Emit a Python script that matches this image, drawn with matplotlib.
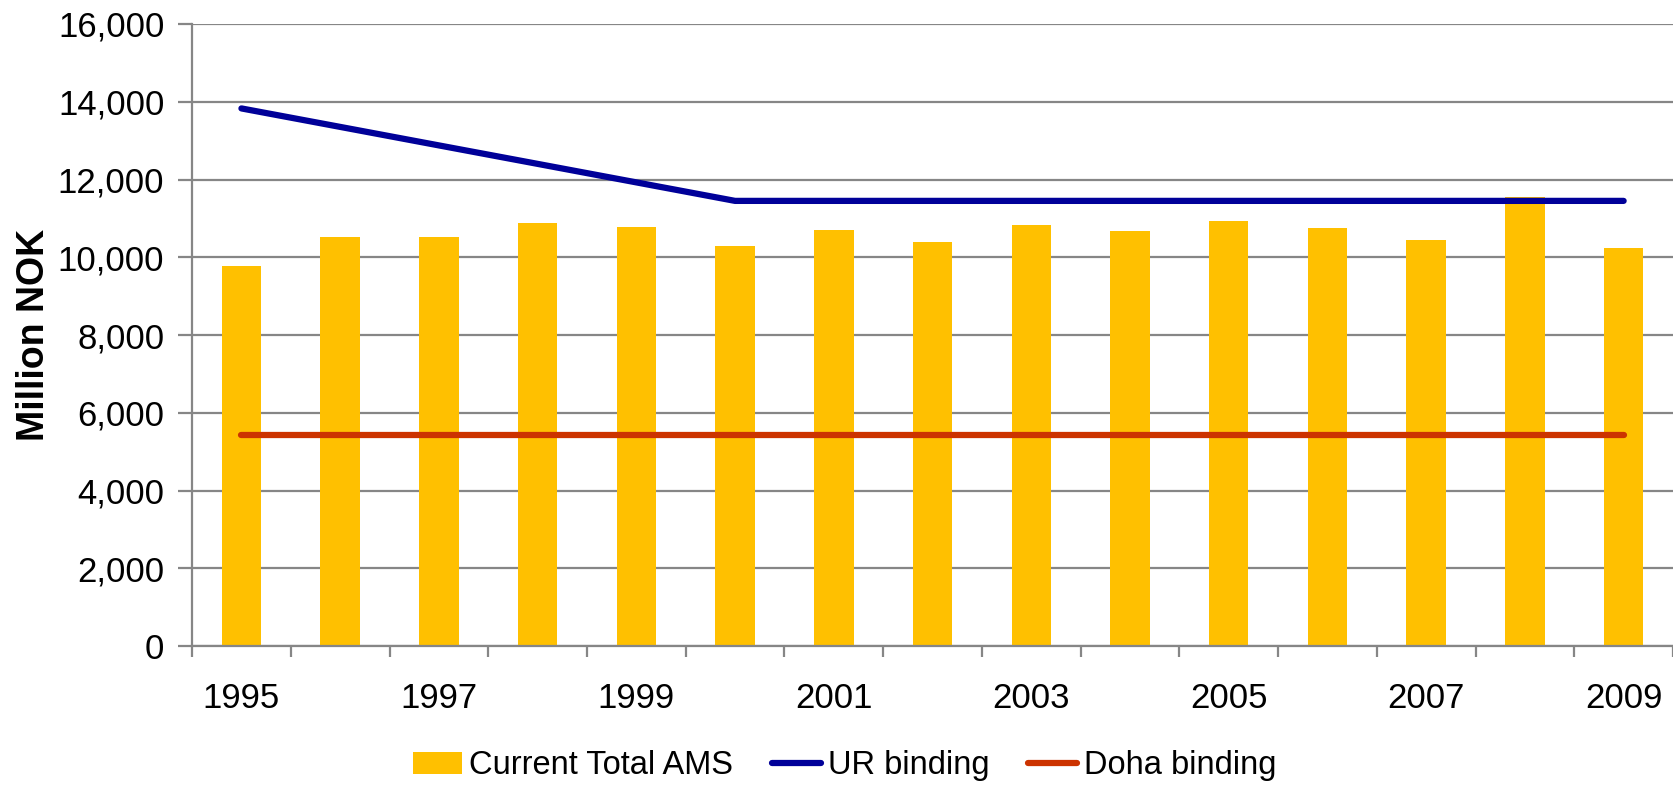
import numpy as np
import matplotlib
matplotlib.use('Agg')
import matplotlib.pyplot as plt
from matplotlib.ticker import FuncFormatter
#============================================================================#

#============================================================================#
years = ['1995', '1996', '1997', '1998', '1999', '2000', '2001', '2002',
         '2003', '2004', '2005', '2006', '2007', '2008', '2009']
total_ams = [9777, 10524, 10515, 10876, 10781, 10283, 10695, 10386,
             10824, 10687, 10927, 10764, 10438, 11554, 10232]
ur_binding = [13828, 13353, 12877, 12402, 11926, 11450, 11450, 11450,
              11450, 11450, 11450, 11450, 11450, 11450, 11450]
doha_binding = [5440, 5440, 5440, 5440, 5440, 5440, 5440, 5440,
                5440, 5440, 5440, 5440, 5440, 5440, 5440]
labelled_years = ['1995', '1997', '1999', '2001', '2003', '2005', '2007', '2009']

#============================================================================#
plt.rcParams['font.family'] = ['Liberation Sans', 'DejaVu Sans']
grey = '#868686'

fig = plt.figure(figsize=(16.73, 7.86), dpi=100)
ax = fig.add_axes([0.1148, 0.178, 0.8852, 0.7915])

x = np.arange(len(years))
bars = ax.bar(x, total_ams, width=0.4, color='#FFC000', zorder=2, label='Current Total AMS')
ur, = ax.plot(x, ur_binding, color='#000099', lw=4.5, solid_capstyle='round', zorder=3, label='UR binding')
doha, = ax.plot(x, doha_binding, color='#CC3300', lw=4.5, solid_capstyle='round', zorder=3, label='Doha binding')

ax.set_ylim(0, 16000)
ax.set_xlim(-0.5, len(years) - 0.5)
ax.set_yticks(np.arange(0, 16001, 2000))
ax.yaxis.set_major_formatter(FuncFormatter(lambda v, p: '{:,.0f}'.format(v)))
ax.grid(axis='y', color=grey, lw=1.6, zorder=0)
ax.set_axisbelow(True)

# ticks sit between the categories, labels only on every second year
ax.set_xticks(np.arange(-0.5, len(years), 1.0))
ax.set_xticklabels([])
pos = [years.index(y) for y in labelled_years]
ax.set_xticks(pos, minor=True)
ax.set_xticklabels(labelled_years, minor=True)
ax.tick_params(axis='x', which='major', length=8, width=1.6, color=grey)
ax.tick_params(axis='x', which='minor', length=0, pad=26, labelsize=25)
ax.tick_params(axis='y', length=10, width=1.6, color=grey, pad=10, labelsize=25)

for s in ['top', 'right']:
    ax.spines[s].set_visible(False)
for s in ['left', 'bottom']:
    ax.spines[s].set_color(grey)
    ax.spines[s].set_linewidth(1.6)

ax.set_ylabel('Million NOK', fontsize=27, fontweight='bold', labelpad=4)

fig.legend([bars, ur, doha], ['Current Total AMS', 'UR binding', 'Doha binding'],
           loc='center', bbox_to_anchor=(0.505, 0.0255), ncol=3, frameon=False,
           fontsize=23.5, handlelength=1.5, handletextpad=0.2, columnspacing=1.2)

fig.savefig('out.png', dpi=100)
plt.close()
